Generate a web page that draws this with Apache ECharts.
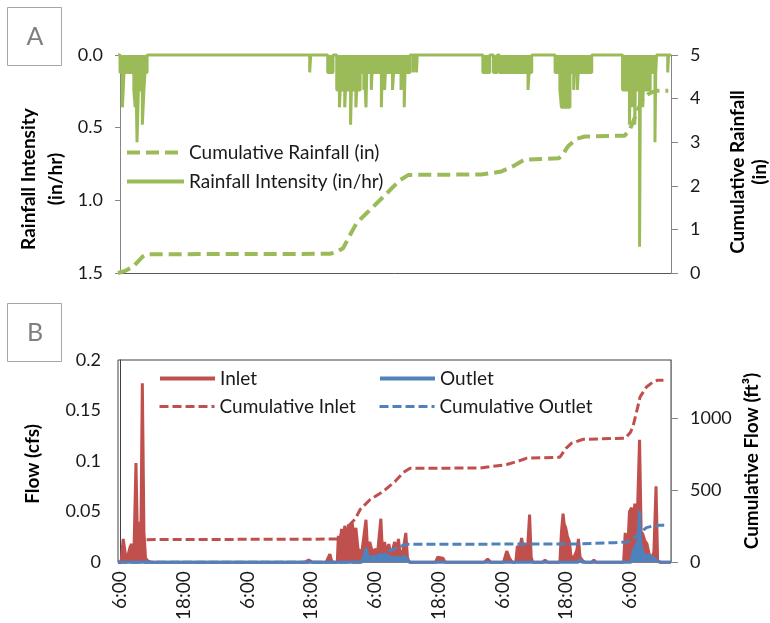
<!DOCTYPE html>
<html>
<head>
<meta charset="utf-8">
<title>Rainfall and flow record</title>
<script src="https://cdn.jsdelivr.net/npm/echarts@6/dist/echarts.min.js"></script>
<style>
  html, body { margin: 0; padding: 0; background: #ffffff; }
  #chart { width: 770px; height: 623px; }
</style>
</head>
<body>
<div id="chart"></div>
<script>
// Time is in hours after 6:00 on the first day of the record.
const timeTickHours  = [0, 12, 24, 36, 48, 60, 72, 84, 96];
const timeTickLabels = ['6:00', '18:00', '6:00', '18:00', '6:00', '18:00', '6:00', '18:00', '6:00'];

const intensityTicks = [0, 0.5, 1.0, 1.5];
const rainTotalTicks = [0, 1, 2, 3, 4, 5];
const flowTicks      = [0, 0.05, 0.1, 0.15, 0.2];
const flowTotalTicks = [0, 500, 1000];

// Rainfall intensity (in/hr), each value held until the next time stamp
const rainIntensity = [
  [-0.38, 0],
  [0.0, 0.12], [0.45, 0.36], [0.75, 0.12], [2.6, 0.24], [2.85, 0.36], [3.05, 0.24],
  [3.2, 0.6], [3.45, 0.24], [4.2, 0.48], [4.5, 0.24], [4.7, 0.12], [5.1, 0],
  [35.7, 0.12], [35.9, 0],
  [39.1, 0.12], [40.1, 0],
  [40.8, 0.24], [41.3, 0.36], [41.45, 0.24], [42.3, 0.36], [42.45, 0.24], [43.4, 0.48],
  [43.55, 0.24], [44.4, 0.36], [44.55, 0.24], [45.2, 0.12], [45.9, 0.24], [46.05, 0.12],
  [46.3, 0.36], [46.45, 0.12], [47.3, 0.24], [47.45, 0.12], [49.2, 0.36], [49.35, 0.12],
  [49.8, 0.24], [49.95, 0.12], [51.3, 0.24], [51.5, 0.12], [52.9, 0.24], [53.05, 0.12],
  [53.5, 0.36], [53.65, 0.12], [54.6, 0],
  [55.2, 0.12], [55.35, 0], [55.8, 0.12], [55.95, 0],
  [68.3, 0.12], [69.6, 0], [70.3, 0.12], [71.0, 0], [71.4, 0.12], [76.8, 0.24], [77.0, 0.12], [77.5, 0],
  [81.9, 0.12], [82.8, 0.24], [83.1, 0.36], [84.7, 0.12], [85.4, 0.24], [85.55, 0.12],
  [86.1, 0.24], [86.25, 0.12], [88.8, 0],
  [94.6, 0.24], [95.9, 0.48], [96.0, 0.24], [96.4, 0.36], [96.5, 0.24], [96.9, 0.48],
  [97.0, 0.24], [97.8, 1.32], [97.95, 0.24], [98.4, 0.36], [98.5, 0.24], [99.8, 0.12],
  [100.7, 0.6], [100.85, 0.12], [101.0, 0],
  [103.1, 0.12], [103.25, 0], [103.72, 0]
];

// Cumulative rainfall (in)
const cumulativeRain = [
  [-0.38, 0], [1.0, 0.05], [2.5, 0.15], [3.5, 0.28], [4.3, 0.38], [5.0, 0.43],
  [39.5, 0.44], [40.5, 0.47], [42.0, 0.57], [43.2, 0.85], [44.5, 1.14], [46.4, 1.37],
  [48.0, 1.56], [49.6, 1.75], [51.2, 1.95], [52.7, 2.13], [54.3, 2.25],
  [68.0, 2.26], [70.0, 2.29], [71.8, 2.33], [74.0, 2.45], [76.1, 2.6], [82.6, 2.63],
  [83.5, 2.75], [84.3, 2.9], [86.0, 3.08], [87.5, 3.13], [95.0, 3.15], [96.0, 3.3],
  [96.7, 3.5], [97.3, 3.7], [98.5, 4.0], [99.4, 4.1], [100.2, 4.15], [101.0, 4.18], [103.2, 4.18]
];

// Inlet flow (cfs)
const inletFlow = [
  [-0.38, 0], [0.2, 0], [0.6, 0.023], [1.0, 0.008], [1.3, 0.003], [1.9, 0.015], [2.2, 0.018],
  [2.6, 0.004], [3.0, 0.098], [3.3, 0.02], [3.6, 0.04], [3.9, 0.01], [4.2, 0.177], [4.5, 0.03],
  [4.8, 0.004], [5.3, 0.001], [5.8, 0],
  [34.8, 0], [35.5, 0.002], [36.2, 0], [38.8, 0], [39.5, 0.008], [39.9, 0],
  [40.9, 0], [41.1, 0.026], [41.4, 0.012], [41.7, 0.033], [42.0, 0.02], [42.3, 0.036],
  [42.6, 0.022], [43.0, 0.037], [43.3, 0.028], [43.7, 0.039], [44.0, 0.025], [44.4, 0.034],
  [44.8, 0.013], [45.3, 0.01], [45.6, 0.013], [46.3, 0.042], [46.6, 0.012], [47.0, 0.02],
  [47.6, 0.008], [48.0, 0.013], [48.5, 0.01], [49.1, 0.043], [49.4, 0.01], [49.8, 0.02],
  [50.2, 0.008], [50.6, 0.018], [51.0, 0.006], [51.7, 0.02], [52.1, 0.01], [52.4, 0.023],
  [52.8, 0.006], [53.3, 0.012], [53.8, 0.029], [54.1, 0.005], [54.4, 0],
  [59.4, 0], [59.8, 0.005], [60.8, 0.004], [61.2, 0],
  [68.6, 0], [69.2, 0.003], [69.8, 0],
  [72.2, 0], [72.8, 0.011], [73.3, 0.004], [73.8, 0],
  [74.5, 0], [74.8, 0.016], [75.2, 0.012], [75.6, 0.024], [75.9, 0.014], [76.3, 0.018],
  [76.7, 0.012], [77.1, 0.047], [77.4, 0.005], [77.7, 0],
  [79.6, 0], [80.0, 0.002], [80.5, 0],
  [82.8, 0], [83.1, 0.03], [83.4, 0.048], [83.6, 0.038], [83.9, 0.034], [84.2, 0.026],
  [84.6, 0.02], [84.9, 0.006], [85.4, 0.004], [86.0, 0.012], [86.3, 0.023], [86.6, 0.005],
  [87.0, 0.002], [87.5, 0],
  [88.8, 0], [89.2, 0.002], [89.6, 0],
  [94.8, 0], [95.1, 0.029], [95.5, 0.004], [95.9, 0.05], [96.3, 0.054], [96.6, 0.035],
  [96.9, 0.058], [97.3, 0.03], [97.8, 0.121], [98.1, 0.03], [98.4, 0.028], [98.8, 0.021],
  [99.2, 0.018], [99.6, 0.008], [100.1, 0.004], [100.5, 0.01], [100.9, 0.075], [101.2, 0.002],
  [101.5, 0], [103.72, 0]
];

// Outlet flow (cfs)
const outletFlow = [
  [-0.38, 0], [45.5, 0], [45.9, 0.006], [46.3, 0.014], [46.7, 0.006], [47.3, 0.004],
  [47.8, 0.006], [48.3, 0.005], [48.8, 0.008], [49.3, 0.006], [49.9, 0.008], [50.5, 0.006],
  [51.1, 0.005], [51.7, 0.004], [52.3, 0.005], [52.9, 0.004], [53.5, 0.006], [54.0, 0.003],
  [54.6, 0], [86.3, 0], [86.6, 0.003], [87.0, 0],
  [96.2, 0], [96.6, 0.012], [97.1, 0.016], [97.5, 0.02], [97.8, 0.051], [98.0, 0.018],
  [98.4, 0.01], [98.8, 0.006], [99.5, 0.007], [100.2, 0.005], [100.8, 0.003], [101.3, 0.001],
  [101.8, 0], [103.72, 0]
];

// Cumulative inlet volume (ft3)
const cumulativeInlet = [
  [-0.38, 0], [0.5, 5], [2.5, 30], [3.5, 80], [4.3, 140], [5.0, 156], [41.0, 160],
  [42.0, 210], [43.0, 250], [44.3, 300], [45.2, 365], [47.1, 434], [49.6, 491],
  [51.8, 560], [53.3, 620], [54.6, 650], [67.8, 652], [69.5, 660], [72.8, 676],
  [75.0, 700], [76.6, 720], [82.8, 727], [84.0, 790], [85.0, 824], [87.2, 851],
  [95.1, 858], [96.1, 900], [96.6, 945], [97.5, 1080], [97.9, 1145], [99.1, 1213],
  [100.4, 1250], [101.2, 1260], [102.3, 1260]
];

// Cumulative outlet volume (ft3)
const cumulativeOutlet = [
  [-0.38, 0], [45.5, 0], [46.5, 15], [48.3, 32], [50.0, 60], [50.8, 78], [53.3, 117],
  [54.3, 124], [86.0, 126], [93.0, 135], [95.5, 140], [96.6, 160], [97.9, 204],
  [99.1, 239], [100.4, 252], [101.5, 255], [102.5, 255]
];

const GREEN = '#9BBB59';
const RED = '#C0504D';
const BLUE = '#4F81BD';
const FONT = 'Lato';
const TEXT = '#1a1a1a';
const AXIS_GRAY = '#868686';
const T_MIN = -0.38, T_MAX = 103.72;

const tickFont = { fontFamily: FONT, fontSize: 18, color: TEXT };

function timeLabel(v) {
  const i = timeTickHours.indexOf(Math.round(v));
  return i >= 0 ? timeTickLabels[i] : '';
}

// One legend block per entry so each sits where the layout needs it.
// The line series legend marker always carries a symbol; it is hidden here.
function legendFor(name, left, top, width, lineWidth) {
  return {
    data: [name], left: left, top: top, padding: 0, itemGap: 0,
    itemWidth: width, itemHeight: 14, selectedMode: false,
    itemStyle: { opacity: 0 },
    lineStyle: { width: lineWidth },
    textStyle: { fontFamily: FONT, fontSize: 19, color: TEXT }
  };
}

function titleText(text, x, y, lineHeight) {
  return {
    type: 'text', x: x, y: y, rotation: Math.PI / 2,
    style: {
      text: text, fontFamily: FONT, fontSize: 19, fontWeight: 'bold', fill: '#000',
      align: 'center', verticalAlign: 'middle', lineHeight: lineHeight
    }
  };
}

const chart = echarts.init(document.getElementById('chart'), null, { renderer: 'canvas' });

chart.setOption({
  animation: false,
  backgroundColor: '#ffffff',
  grid: [
    { left: 118, right: 99, top: 55, height: 218 },
    { left: 118, right: 99, top: 360, height: 203, show: true, borderColor: '#404040', borderWidth: 1, backgroundColor: 'transparent' }
  ],
  xAxis: [
    {
      gridIndex: 0, type: 'value', min: T_MIN, max: T_MAX,
      axisLine: { show: true, onZero: false, lineStyle: { color: '#595959', width: 1 } },
      axisTick: { show: false }, axisLabel: { show: false }, splitLine: { show: false }
    },
    {
      gridIndex: 1, type: 'value', min: T_MIN, max: T_MAX,
      axisLine: { show: true, onZero: false, lineStyle: { color: AXIS_GRAY, width: 1 } },
      axisTick: { show: false }, splitLine: { show: false },
      axisLabel: Object.assign({}, tickFont, {
        customValues: timeTickHours, rotate: 90, margin: 9, fontSize: 19, formatter: timeLabel
      })
    }
  ],
  yAxis: [
    {
      gridIndex: 0, type: 'value', inverse: true, min: 0, max: 1.5, position: 'left',
      axisLine: { show: true, lineStyle: { color: AXIS_GRAY } },
      axisTick: { show: true, length: 5, customValues: intensityTicks, lineStyle: { color: AXIS_GRAY } },
      axisLabel: Object.assign({}, tickFont, { customValues: intensityTicks, margin: 15, formatter: v => v.toFixed(1) }),
      splitLine: { show: false }
    },
    {
      gridIndex: 0, type: 'value', min: 0, max: 5, position: 'right',
      axisLine: { show: true, lineStyle: { color: AXIS_GRAY } },
      axisTick: { show: true, length: 7, customValues: rainTotalTicks, lineStyle: { color: AXIS_GRAY } },
      axisLabel: Object.assign({}, tickFont, { customValues: rainTotalTicks, margin: 19, formatter: v => String(v) }),
      splitLine: { show: false }
    },
    {
      gridIndex: 1, type: 'value', min: 0, max: 0.2, position: 'left',
      axisLine: { show: true, lineStyle: { color: '#404040' } },
      axisTick: { show: false },
      axisLabel: Object.assign({}, tickFont, {
        customValues: flowTicks, margin: 17, formatter: v => String(+v.toFixed(2))
      }),
      splitLine: { show: false }
    },
    {
      gridIndex: 1, type: 'value', min: 0, max: 1400, position: 'right',
      axisLine: { show: true, lineStyle: { color: AXIS_GRAY } },
      axisTick: { show: true, length: 7, customValues: flowTotalTicks, lineStyle: { color: AXIS_GRAY } },
      axisLabel: Object.assign({}, tickFont, { customValues: flowTotalTicks, margin: 19, formatter: v => String(v) }),
      splitLine: { show: false }
    }
  ],
  legend: [
    legendFor('Cumulative Rainfall (in)', 125, 143, 57, 4),
    legendFor('Rainfall Intensity (in/hr)', 125, 172, 57, 4),
    legendFor('Inlet', 158, 369, 55, 4),
    legendFor('Outlet', 378, 369, 55, 4),
    legendFor('Cumulative Inlet', 158, 397, 55, 3),
    legendFor('Cumulative Outlet', 378, 397, 55, 3)
  ],
  graphic: [
    { type: 'rect', shape: { x: 7.5, y: 7.5, width: 54, height: 58 }, style: { fill: '#fff', stroke: '#a6a6a6', lineWidth: 1 } },
    { type: 'text', x: 35, y: 37, style: { text: 'A', fontFamily: FONT, fontSize: 25, fill: '#7f7f7f', align: 'center', verticalAlign: 'middle' } },
    { type: 'rect', shape: { x: 7.5, y: 303.5, width: 54, height: 58 }, style: { fill: '#fff', stroke: '#a6a6a6', lineWidth: 1 } },
    { type: 'text', x: 35, y: 333, style: { text: 'B', fontFamily: FONT, fontSize: 25, fill: '#7f7f7f', align: 'center', verticalAlign: 'middle' } },
    titleText('Rainfall Intensity\n(in/hr)', 42, 179, 27),
    titleText('Cumulative Rainfall\n(in)', 749, 172, 22),
    titleText('Flow (cfs)', 33, 464, 22),
    titleText('Cumulative Flow (ft³)', 752, 461, 22)
  ],
  series: [
    {
      name: 'Rainfall Intensity (in/hr)', type: 'line', xAxisIndex: 0, yAxisIndex: 0,
      data: rainIntensity, step: 'end', symbol: 'none', clip: false,
      lineStyle: { color: GREEN, width: 3 }, itemStyle: { color: GREEN },
      areaStyle: { color: GREEN, opacity: 1 }
    },
    {
      name: 'Cumulative Rainfall (in)', type: 'line', xAxisIndex: 0, yAxisIndex: 1,
      data: cumulativeRain, symbol: 'none', clip: false,
      lineStyle: { color: GREEN, width: 4, type: [13, 6] }, itemStyle: { color: GREEN }
    },
    {
      name: 'Inlet', type: 'line', xAxisIndex: 1, yAxisIndex: 2,
      data: inletFlow, symbol: 'none', clip: false,
      lineStyle: { color: RED, width: 3 }, itemStyle: { color: RED },
      areaStyle: { color: RED, opacity: 1 }
    },
    {
      name: 'Outlet', type: 'line', xAxisIndex: 1, yAxisIndex: 2,
      data: outletFlow, symbol: 'none', clip: false,
      lineStyle: { color: BLUE, width: 3 }, itemStyle: { color: BLUE },
      areaStyle: { color: BLUE, opacity: 1 }
    },
    {
      name: 'Cumulative Inlet', type: 'line', xAxisIndex: 1, yAxisIndex: 3,
      data: cumulativeInlet, symbol: 'none', clip: false,
      lineStyle: { color: RED, width: 3, type: [9, 4] }, itemStyle: { color: RED }
    },
    {
      name: 'Cumulative Outlet', type: 'line', xAxisIndex: 1, yAxisIndex: 3,
      data: cumulativeOutlet, symbol: 'none', clip: false,
      lineStyle: { color: BLUE, width: 3, type: [9, 4] }, itemStyle: { color: BLUE }
    }
  ]
});
</script>
</body>
</html>
